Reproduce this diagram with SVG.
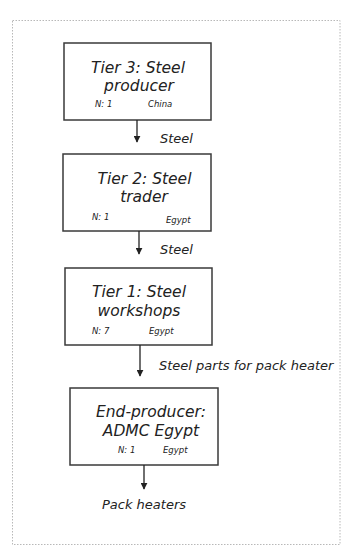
<svg xmlns="http://www.w3.org/2000/svg" width="361" height="545" viewBox="0 0 361 545">
<style>
.box{fill:#fff;stroke:#3a3a3a;stroke-width:1.5}
.t{font-family:"DejaVu Sans",Verdana,sans-serif;font-style:italic;fill:#222}
.title{font-size:15.5px;text-anchor:middle}
.small{font-size:8.5px}
.lbl{font-size:13px}
.conn line{stroke:#222;stroke-width:1.3}
</style>
<defs>
<marker id="ah" viewBox="0 0 10 10" refX="9" refY="5" markerWidth="7" markerHeight="7" markerUnits="userSpaceOnUse" orient="auto">
<path d="M0,0 L10,5 L0,10 z" fill="#222"/>
</marker>
</defs>
<rect x="0" y="0" width="361" height="545" fill="#fff"/>
<rect x="12.5" y="20.5" width="327.5" height="524" fill="none" stroke="#b8b8b8" stroke-width="1" stroke-dasharray="1.5,1.5"/>
<g id="n1">
<rect class="box" x="64" y="43" width="147" height="77"/>
<text class="t title" x="138" y="73">Tier 3: Steel</text>
<text class="t title" x="139" y="91">producer</text>
<text class="t small" x="95" y="107">N: 1</text>
<text class="t small" x="148" y="107">China</text>
</g>
<g id="n2">
<rect class="box" x="63" y="154" width="148" height="77"/>
<text class="t title" x="144.5" y="184">Tier 2: Steel</text>
<text class="t title" x="144" y="202">trader</text>
<text class="t small" x="92" y="220">N: 1</text>
<text class="t small" x="166" y="223">Egypt</text>
</g>
<g id="n3">
<rect class="box" x="65" y="268" width="147" height="77"/>
<text class="t title" x="139" y="297">Tier 1: Steel</text>
<text class="t title" x="139" y="316">workshops</text>
<text class="t small" x="92" y="334">N: 7</text>
<text class="t small" x="149" y="334">Egypt</text>
</g>
<g id="n4">
<rect class="box" x="70" y="388" width="148" height="77"/>
<text class="t title" x="151" y="417">End-producer:</text>
<text class="t title" x="151" y="436">ADMC Egypt</text>
<text class="t small" x="118" y="453">N: 1</text>
<text class="t small" x="163" y="453">Egypt</text>
</g>
<g id="connectors" class="conn">
<line x1="137" y1="120" x2="137" y2="142" marker-end="url(#ah)"/>
<line x1="139" y1="231" x2="139" y2="254" marker-end="url(#ah)"/>
<line x1="140" y1="345" x2="140" y2="376" marker-end="url(#ah)"/>
<line x1="144" y1="465" x2="144" y2="489" marker-end="url(#ah)"/>
<text class="t lbl" x="160" y="143">Steel</text>
<text class="t lbl" x="160" y="254">Steel</text>
<text class="t lbl" x="159" y="370">Steel parts for pack heater</text>
<text class="t lbl" x="102" y="509">Pack heaters</text>
</g>
</svg>
